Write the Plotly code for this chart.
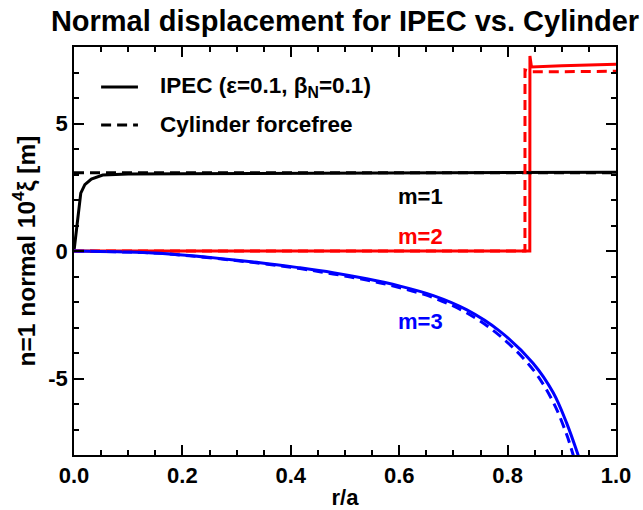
import plotly.graph_objects as go

# ---- data ----
r_m1_ipec = [0.0, 0.005, 0.0125, 0.02, 0.032, 0.053, 0.1, 0.2, 0.4, 0.6, 0.8, 1.0]
xi_m1_ipec = [0.0, 0.95, 2.27, 2.6, 2.82, 2.98, 3.02, 3.03, 3.04, 3.05, 3.07, 3.09]

r_m1_cyl = [0.0, 0.5, 1.0]
xi_m1_cyl = [3.07, 3.07, 3.07]

r_m2_ipec = [0.0, 0.2, 0.4, 0.6, 0.8, 0.841, 0.8412, 0.844, 0.9, 1.0]
xi_m2_ipec = [0.0, 0.0, 0.0, 0.0, 0.0, 0.0, 7.65, 7.22, 7.26, 7.32]

r_m2_cyl = [0.0, 0.2, 0.4, 0.6, 0.8, 0.832, 0.8321, 0.845, 0.9, 1.0]
xi_m2_cyl = [0.0, 0.0, 0.0, 0.0, 0.0, 0.0, 7.1, 7.03, 7.03, 7.05]

r_m3_ipec = [0.0, 0.08, 0.158, 0.343, 0.417, 0.478, 0.54, 0.6, 0.663, 0.724, 0.786, 0.847, 0.884, 0.909, 0.930, 0.945]
xi_m3_ipec = [0.0, -0.03, -0.09, -0.46, -0.66, -0.85, -1.09, -1.37, -1.75, -2.3, -3.15, -4.4, -5.55, -6.75, -8.0, -9.0]

r_m3_cyl = [0.0, 0.08, 0.158, 0.343, 0.417, 0.478, 0.54, 0.6, 0.663, 0.724, 0.786, 0.847, 0.884, 0.909, 0.921, 0.935]
xi_m3_cyl = [0.0, -0.03, -0.09, -0.48, -0.69, -0.9, -1.14, -1.43, -1.83, -2.42, -3.33, -4.65, -5.92, -7.2, -8.0, -9.0]

x_ticks = [0.0, 0.2, 0.4, 0.6, 0.8, 1.0]
x_tick_labels = ["0.0", "0.2", "0.4", "0.6", "0.8", "1.0"]
y_ticks = [-5, 0, 5]
y_tick_labels = ["-5", "0", "5"]

mode_labels = ["m=1", "m=2", "m=3"]
mode_label_r = [0.64, 0.64, 0.64]
mode_label_xi = [2.13, 0.56, -2.77]
mode_colors = ["black", "red", "blue"]

legend_labels = ["IPEC (ε=0.1, β<sub>N</sub>=0.1)", "Cylinder forcefree"]

FONT = "Liberation Sans"
DASH = "10px,6px"
LW = 3

fig = go.Figure()
# solid IPEC curves
for r, v, c, shp in [(r_m1_ipec, xi_m1_ipec, "black", "linear"), (r_m2_ipec, xi_m2_ipec, "red", "linear"),
                     (r_m3_ipec, xi_m3_ipec, "blue", "spline")]:
    fig.add_trace(go.Scatter(x=r, y=v, mode="lines", line=dict(color=c, width=LW, shape=shp),
                             showlegend=False, hoverinfo="skip"))
# dashed cylinder curves
for r, v, c, shp in [(r_m1_cyl, xi_m1_cyl, "black", "linear"), (r_m2_cyl, xi_m2_cyl, "red", "linear"),
                     (r_m3_cyl, xi_m3_cyl, "blue", "spline")]:
    fig.add_trace(go.Scatter(x=r, y=v, mode="lines", line=dict(color=c, width=LW, dash=DASH, shape=shp),
                             showlegend=False, hoverinfo="skip"))

# mode labels
for t, xr, yv, c in zip(mode_labels, mode_label_r, mode_label_xi, mode_colors):
    fig.add_annotation(x=xr, y=yv, text="<b>%s</b>" % t, showarrow=False,
                       font=dict(family=FONT, size=22, color=c), xanchor="center", yanchor="middle")

# hand-made legend (IDL style)
leg_y = [0.902, 0.809]
leg_dash = ["solid", DASH]
for yy, d, lab in zip(leg_y, leg_dash, legend_labels):
    fig.add_shape(type="line", xref="paper", yref="paper", x0=0.05, x1=0.118, y0=yy, y1=yy,
                  line=dict(color="black", width=LW, dash=d))
    fig.add_annotation(xref="paper", yref="paper", x=0.155, y=yy, text="<b>%s</b>" % lab,
                       showarrow=False, xanchor="left", yanchor="middle",
                       font=dict(family=FONT, size=22.5, color="black"))

axis_common = dict(
    showgrid=False, zeroline=False, showline=True, linecolor="black", linewidth=1.5,
    mirror="allticks", ticks="inside", ticklen=10, tickwidth=1.5, tickcolor="black",
    tickfont=dict(family=FONT, size=22, color="black"),
)

fig.update_xaxes(range=[0, 1], tickvals=x_ticks, ticktext=["<b>%s</b>" % s for s in x_tick_labels],
                 minor=dict(dtick=0.05, ticks="inside", ticklen=5, tickwidth=1.5, tickcolor="black"),
                 title=dict(text="<b>r/a</b>", font=dict(family=FONT, size=22, color="black"), standoff=2),
                 **axis_common)
fig.update_yaxes(range=[-8, 8], tickvals=y_ticks, ticktext=["<b>%s</b>" % s for s in y_tick_labels],
                 minor=dict(dtick=1, ticks="inside", ticklen=5, tickwidth=1.5, tickcolor="black"),
                 title=dict(text="<b>n=1 normal 10<sup>4</sup>ξ [m]</b>", font=dict(family=FONT, size=24.5, color="black"), standoff=6),
                 **axis_common)

fig.update_layout(
    width=643, height=510,
    margin=dict(l=74, r=27, t=47, b=55, autoexpand=False),
    paper_bgcolor="white", plot_bgcolor="white",
    title=dict(text="<b>Normal displacement for IPEC vs. Cylinder</b>", x=0.5, xref="paper",
               y=1 - 21 / 510, yref="container", xanchor="center", yanchor="middle",
               font=dict(family=FONT, size=29, color="black")),
    showlegend=False,
)

fig.write_html("out.html", config={"displayModeBar": False},
               post_script="document.body.style.margin='0';document.body.style.overflow='hidden';")
